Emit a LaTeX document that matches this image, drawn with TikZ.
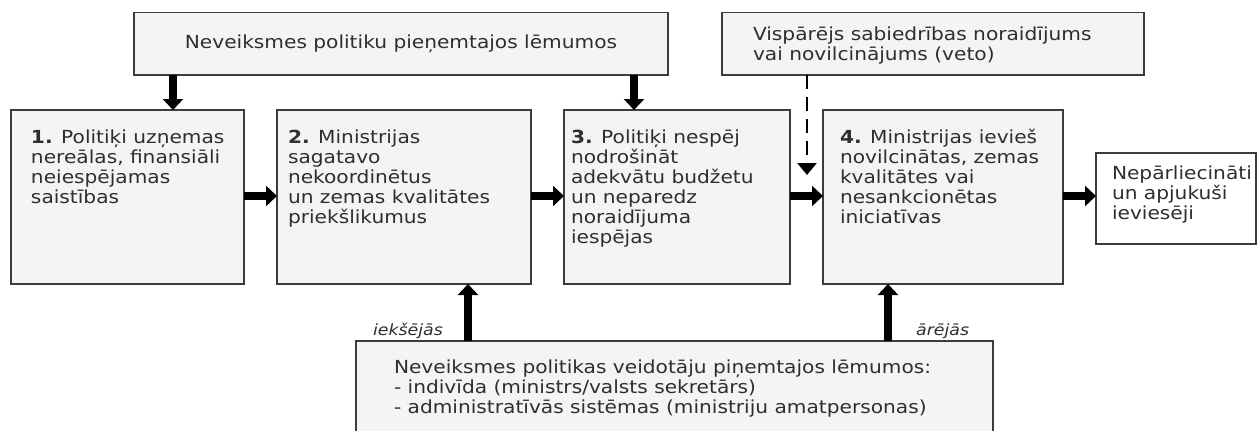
\documentclass[tikz,border=0pt]{standalone}
\usepackage{fontspec}
\setmainfont[FakeStretch=1.12]{DejaVu Sans}
\usetikzlibrary{arrows.meta}
\definecolor{boxline}{HTML}{3C3C3C}
\definecolor{boxfill}{HTML}{F4F4F4}
\definecolor{txt}{HTML}{2E2E2E}
\newcommand\boxcontent[5]{\parbox[b][#2][t]{#1}{\setlength\leftskip{#3}\rule{0pt}{#4}#5}}
\begin{document}
\begin{tikzpicture}[x=1pt,y=-1pt,
  every node/.style={font=\fontsize{18}{20}\selectfont, text=txt},
  box/.style={draw=boxline, fill=boxfill, line width=1.4pt, inner sep=0pt, outer sep=0pt, anchor=north west},
  bigarrow/.style={line width=8.5pt, draw=black, -{Triangle[length=11pt,width=20pt]}},
  vetoarrow/.style={line width=2.7pt, draw=black, dash pattern=on 14pt off 8pt, -{Triangle[length=12pt,width=19pt]}},
  side/.style={font=\fontsize{15.5}{18}\selectfont\itshape, inner sep=0pt}]
\useasboundingbox (0,0) rectangle (1259,431);
\fill[white] (0,0) rectangle (1259,431);

\node[box, minimum width=534pt, minimum height=62.5pt] (top) at (134,12.5) {Neveiksmes politiku pieņemtajos lēmumos};
\node[box] (veto) at (722,12.5) {\boxcontent{422pt}{62.5pt}{31pt}{27.5pt}{Vispārējs sabiedrības noraidījums\\vai novilcinājums (veto)}};

\node[box] (b1) at (11,110) {\boxcontent{233pt}{174pt}{20pt}{33pt}{\textbf{1.} Politiķi uzņemas\\nereālas, finansiāli\\neiespējamas\\saistības}};
\node[box] (b2) at (277,110) {\boxcontent{254pt}{174pt}{11pt}{33pt}{\textbf{2.} Ministrijas\\sagatavo\\nekoordinētus\\un zemas kvalitātes\\priekšlikumus}};
\node[box] (b3) at (564,110) {\boxcontent{226pt}{174pt}{7pt}{33pt}{\textbf{3.} Politiķi nespēj\\nodrošināt\\adekvātu budžetu\\un neparedz\\noraidījuma\\iespējas}};
\node[box] (b4) at (823,110) {\boxcontent{240pt}{174pt}{17pt}{33pt}{\textbf{4.} Ministrijas ievieš\\novilcinātas, zemas\\kvalitātes vai\\nesankcionētas\\iniciatīvas}};
\node[box, fill=white] (b5) at (1096,153) {\boxcontent{160pt}{91pt}{16pt}{26pt}{Nepārliecināti\\un apjukuši\\ieviesēji}};
\node[box] (bot) at (356,341) {\boxcontent{637pt}{95pt}{38pt}{32pt}{Neveiksmes politikas veidotāju piņemtajos lēmumos:\\- indivīda (ministrs/valsts sekretārs)\\- administratīvās sistēmas (ministriju amatpersonas)}};

\draw[bigarrow] ([xshift=39pt]top.south west) -- ([xshift=162pt]b1.north west);
\draw[bigarrow] ([xshift=500pt]top.south west) -- ([xshift=70pt]b3.north west);
\coordinate (vetoend) at (807,175);
\draw[vetoarrow] ([xshift=85pt]veto.south west) -- (vetoend);
\draw[bigarrow] ([yshift=-86pt]b1.north east) -- ([yshift=-86pt]b2.north west);
\draw[bigarrow] ([yshift=-86pt]b2.north east) -- ([yshift=-86pt]b3.north west);
\draw[bigarrow] ([yshift=-86pt]b3.north east) -- ([yshift=-86pt]b4.north west);
\draw[bigarrow] ([yshift=-86pt]b4.north east) -- ([yshift=-43pt]b5.north west);
\draw[bigarrow] ([xshift=112pt]bot.north west) -- ([xshift=191pt]b2.south west);
\draw[bigarrow] ([xshift=532pt]bot.north west) -- ([xshift=65pt]b4.south west);

\node[side, anchor=base east] (inner) at (443,335) {iekšējās};
\node[side, anchor=base west] (outer) at (916,335) {ārējās};
\end{tikzpicture}
\end{document}
